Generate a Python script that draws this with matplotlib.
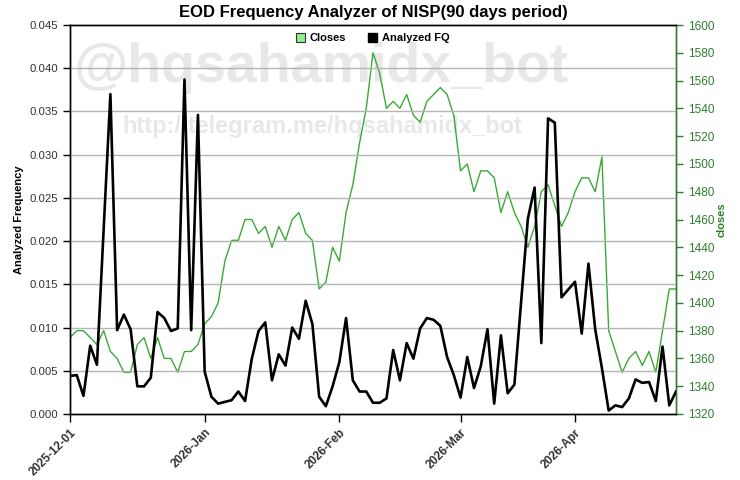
import numpy as np
import matplotlib
matplotlib.use("Agg")
import matplotlib.pyplot as plt
from matplotlib.patches import Patch

plt.rcParams['font.family'] = ['Liberation Sans', 'DejaVu Sans']

# ---- data ----
analyzed_fq = [
    0.0044, 0.0045, 0.0021, 0.0079, 0.0057, 0.0214, 0.0370, 0.0097, 0.0115, 0.0098,
    0.0032, 0.0032, 0.0042, 0.0118, 0.0111, 0.0096, 0.0099, 0.0387, 0.0097, 0.0346,
    0.0049, 0.0020, 0.0012, 0.0014, 0.0016, 0.0026, 0.0015, 0.0064, 0.0096, 0.0106,
    0.0039, 0.0069, 0.0056, 0.0100, 0.0087, 0.0131, 0.0104, 0.0020, 0.0009, 0.0032,
    0.0060, 0.0111, 0.0039, 0.0026, 0.0026, 0.0013, 0.0013, 0.0018, 0.0074, 0.0039,
    0.0082, 0.0064, 0.0099, 0.0111, 0.0109, 0.0102, 0.0066, 0.0045, 0.0019, 0.0066,
    0.0030, 0.0055, 0.0098, 0.0012, 0.0091, 0.0024, 0.0034, 0.0130, 0.0226, 0.0262,
    0.0082, 0.0342, 0.0337, 0.0135, 0.0144, 0.0153, 0.0093, 0.0174, 0.0098, 0.0053,
    0.0004, 0.0010, 0.0008, 0.0018, 0.0040, 0.0036, 0.0037, 0.0015, 0.0078, 0.0010,
    0.0026,
]
closes = [
    1375, 1380, 1380, 1375, 1370, 1380, 1365, 1360, 1350, 1350,
    1370, 1375, 1360, 1375, 1360, 1360, 1350, 1365, 1365, 1370,
    1385, 1390, 1400, 1430, 1445, 1445, 1460, 1460, 1450, 1455,
    1440, 1455, 1445, 1460, 1465, 1450, 1445, 1410, 1415, 1440,
    1430, 1465, 1485, 1515, 1540, 1580, 1565, 1540, 1545, 1540,
    1550, 1535, 1530, 1545, 1550, 1555, 1550, 1535, 1495, 1500,
    1480, 1495, 1495, 1490, 1465, 1480, 1465, 1455, 1440, 1455,
    1480, 1485, 1470, 1455, 1465, 1480, 1490, 1490, 1480, 1505,
    1380, 1365, 1350, 1360, 1365, 1355, 1365, 1350, 1380, 1410,
    1410,
]
tick_labels = ['2025-12-01', '2026-Jan', '2026-Feb', '2026-Mar', '2026-Apr']
tick_index = [0, 20, 40, 58, 75]

title = 'EOD Frequency Analyzer of NISP(90 days period)'
watermark1 = '@hqsahamidx_bot'
watermark2 = 'http://telegram.me/hqsahamidx_bot'

# ---- styling ----
GREEN_LINE = '#3aaa35'
GREEN_AXIS = '#2e7d2e'
TXT = '#333333'

x = np.arange(len(closes))

fig = plt.figure(figsize=(7.4, 4.8), dpi=100)
fig.patch.set_facecolor('white')
ax2 = fig.add_axes([70/740, 1-414/480, (676-70)/740, (414-25)/480])
ax = ax2.twinx()
# left axis = FQ (ax, drawn on top), right axis = closes (ax2)
ax.yaxis.tick_left()
ax.yaxis.set_label_position('left')
ax2.yaxis.tick_right()
ax2.yaxis.set_label_position('right')
ax.set_zorder(ax2.get_zorder() + 1)
ax.patch.set_visible(False)

# watermark (behind everything)
ax2.text(321/740, 1-68/480, watermark1, transform=fig.transFigure, fontsize=40,
         fontweight='bold', color='#e8e8e8', ha='center', va='center', zorder=0)
ax2.text(322/740, 1-127/480, watermark2, transform=fig.transFigure, fontsize=17,
         fontweight='bold', color='#e8e8e8', ha='center', va='center', zorder=0)

ax2.plot(x, closes, color=GREEN_LINE, lw=1.0, zorder=2)
ax.plot(x, analyzed_fq, color='black', lw=1.9, zorder=3)

ax2.set_xlim(0, len(closes) - 1)
ax.set_ylim(0, 0.045)
ax2.set_ylim(1320, 1600)

fq_ticks = np.arange(0, 0.0451, 0.005)
ax.set_yticks(fq_ticks)
ax.set_yticklabels([f'{v:.3f}' for v in fq_ticks])
ax2.set_yticks(np.arange(1320, 1601, 20))

ax.grid(axis='y', color='#b4b4b4', lw=1.0, zorder=1)
ax.set_axisbelow(True)

ax2.set_xticks(tick_index)
ax2.set_xticklabels(tick_labels, rotation=45, ha='right', rotation_mode='anchor',
                    fontweight='bold', fontsize=8.5, color=TXT)

ax.tick_params(axis='y', labelsize=8.2, colors='black', labelcolor=TXT, length=5, width=1)
ax2.tick_params(axis='y', labelsize=8.5, colors=GREEN_AXIS, length=5, width=1)
ax2.tick_params(axis='x', length=6, width=1, colors='black', labelcolor=TXT, pad=3)

for a in (ax, ax2):
    for s in a.spines.values():
        s.set_linewidth(1.0)
ax2.spines['right'].set_color(GREEN_AXIS)
ax.spines['right'].set_color(GREEN_AXIS)

ax.set_ylabel('Analyzed Frequency', fontsize=8, fontweight='bold', color='black', labelpad=4)
ax2.set_ylabel('closes', fontsize=8, fontweight='bold', color=GREEN_AXIS, labelpad=2)

fig.suptitle(title, x=373/740, y=1-12/480, va='center', fontsize=12, fontweight='bold')

handles = [Patch(facecolor='#90ee90', edgecolor='#333333', lw=0.8, label='Closes'),
           Patch(facecolor='black', edgecolor='black', label='Analyzed FQ')]
ax.legend(handles=handles, loc='upper center', bbox_to_anchor=(0.5, 1.005), ncol=2,
          frameon=False, handlelength=0.8, handleheight=0.8,
          handletextpad=0.4, columnspacing=2.0, prop={'weight': 'bold', 'size': 8})

fig.savefig('out.png', dpi=100)
